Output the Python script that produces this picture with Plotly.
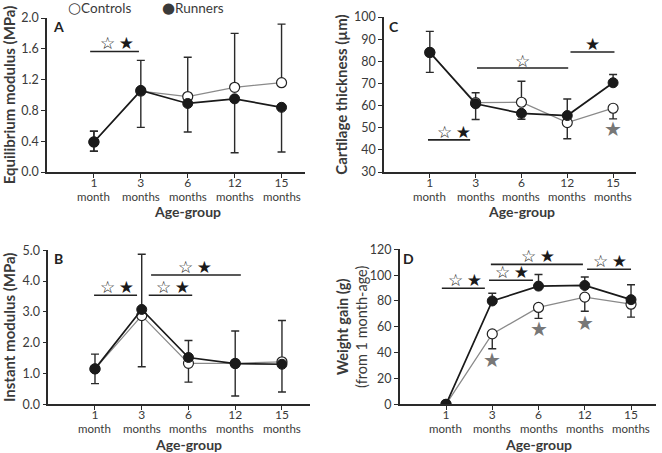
import plotly.graph_objects as go

# ---------------- data ----------------
age_pos = [1, 2, 3, 4, 5]
age_nums = ["1", "3", "6", "12", "15"]
age_units = ["month", "months", "months", "months", "months"]

# Panel A - Equilibrium modulus (MPa)
a_ctrl = [0.39, 1.05, 0.98, 1.10, 1.16]
a_ctrl_up = [0.14, 0.40, 0.51, 0.70, 0.76]
a_ctrl_dn = [0.12, 0.00, 0.00, 0.00, 0.00]
a_run = [0.39, 1.06, 0.89, 0.95, 0.84]
a_run_up = [0.14, 0.00, 0.00, 0.00, 0.00]
a_run_dn = [0.12, 0.48, 0.37, 0.70, 0.58]

# Panel B - Instant modulus (MPa)
b_ctrl = [1.15, 2.88, 1.33, 1.33, 1.38]
b_ctrl_up = [0.00, 0.00, 0.00, 0.00, 1.34]
b_ctrl_dn = [0.00, 1.66, 0.61, 0.00, 0.00]
b_run = [1.15, 3.08, 1.52, 1.32, 1.30]
b_run_up = [0.48, 1.79, 0.55, 1.06, 0.00]
b_run_dn = [0.48, 0.00, 0.00, 1.05, 0.90]

# Panel C - Cartilage thickness (um)
c_ctrl = [84.0, 61.3, 61.5, 52.3, 58.8]
c_ctrl_up = [0.0, 4.5, 9.5, 0.0, 0.0]
c_ctrl_dn = [0.0, 0.0, 0.0, 7.3, 4.8]
c_run = [84.0, 60.8, 56.5, 55.5, 70.3]
c_run_up = [9.5, 0.0, 0.0, 7.5, 3.7]
c_run_dn = [9.0, 7.1, 2.7, 0.0, 0.0]

# Panel D - Weight gain (g)
d_ctrl = [0.0, 54.5, 75.0, 83.0, 77.5]
d_ctrl_up = [0.0, 0.0, 0.0, 0.0, 0.0]
d_ctrl_dn = [0.0, 11.5, 8.5, 11.0, 10.0]
d_run = [0.0, 80.0, 91.5, 92.0, 81.0]
d_run_up = [0.0, 6.0, 9.0, 6.5, 11.5]
d_run_dn = [0.0, 0.0, 0.0, 0.0, 0.0]

# significance bars: (x0, x1, y, label, star_x, star_y)
BOTH = "☆\u2009★"
a_sig = [(0.92, 1.96, 1.565, BOTH, 1.50, 1.675)]
b_sig = [(0.98, 1.90, 3.54, BOTH, 1.47, 3.82),
         (2.15, 3.08, 3.54, BOTH, 2.67, 3.82),
         (2.20, 4.12, 4.20, BOTH, 3.15, 4.47)]
c_sig = [(0.96, 1.88, 44.5, BOTH, 1.53, 47.9),
         (2.03, 4.02, 77.0, "☆", 3.02, 80.3),
         (4.07, 5.03, 84.2, "★", 4.55, 88.0)]
d_sig = [(0.91, 1.84, 89.8, BOTH, 1.40, 96.3),
         (1.93, 2.88, 96.0, BOTH, 2.42, 102.6),
         (1.97, 3.96, 108.3, BOTH, 2.98, 114.9),
         (4.05, 5.00, 104.5, BOTH, 4.54, 110.6)]
# grey stars (controls vs runners)
c_grey_x, c_grey_y = [5], [49.5]
d_grey_x, d_grey_y = [2, 3, 4], [34, 58, 63]

legend_names = ["Controls", "Runners"]
xtitle = "Age-group"

W, H = 662, 453
FONT = "Lato, 'Open Sans', sans-serif"
TXT = "#3a3a3a"
AX = "#2a2a2a"

panels = [
    dict(key="", letter="A", ctrl=a_ctrl, cu=a_ctrl_up, cd=a_ctrl_dn, run=a_run, ru=a_run_up, rd=a_run_dn,
         xpx=(47, 305), ypx=(18, 172), xr=[0, 5.5], yr=[0, 2.0], dtick=0.4, fmt=".1f",
         ytitle="<b>Equilibrium modulus (MPa)</b>", ysoff=12, sig=a_sig, grey=None, lx=0.235, ly=1.89),
    dict(key="2", letter="C", ctrl=c_ctrl, cu=c_ctrl_up, cd=c_ctrl_dn, run=c_run, ru=c_run_up, rd=c_run_dn,
         xpx=(384, 636), ypx=(17, 172), xr=[0, 5.5], yr=[30, 100], dtick=10, fmt="d",
         ytitle="<b>Cartilage thickness (µm)</b>", ysoff=3, sig=c_sig, grey=(c_grey_x, c_grey_y), lx=0.22, ly=95.5),
    dict(key="3", letter="B", ctrl=b_ctrl, cu=b_ctrl_up, cd=b_ctrl_dn, run=b_run, ru=b_run_up, rd=b_run_dn,
         xpx=(48.25, 310), ypx=(250.3, 404.3), xr=[0, 5.6], yr=[0, 5.0], dtick=1.0, fmt=".1f",
         ytitle="<b>Instant modulus (MPa)</b>", ysoff=12, sig=b_sig, grey=None, lx=0.22, ly=4.72),
    dict(key="4", letter="D", ctrl=d_ctrl, cu=d_ctrl_up, cd=d_ctrl_dn, run=d_run, ru=d_run_up, rd=d_run_dn,
         xpx=(399.75, 656), ypx=(249.3, 404.3), xr=[0, 5.54], yr=[0, 120], dtick=20, fmt="d",
         ytitle=None, ysoff=0, sig=d_sig, grey=(d_grey_x, d_grey_y), lx=0.2, ly=113),
]
d_ytitle = "<b>Weight gain (g)</b><br>(from 1 month-age)"

fig = go.Figure()
layout = dict(width=W, height=H, margin=dict(l=0, r=0, t=0, b=0, autoexpand=False),
              paper_bgcolor="white", plot_bgcolor="white",
              font=dict(family=FONT, color=TXT, size=12), showlegend=False)
annotations = []
shapes = []

for p in panels:
    k = p["key"]
    xa, ya = "x" + k, "y" + k
    eb = dict(type="data", symmetric=False, color=AX, thickness=1.4, width=4)
    fig.add_trace(go.Scatter(
        x=age_pos, y=p["ctrl"], xaxis=xa, yaxis=ya, mode="lines+markers", name=legend_names[0],
        line=dict(color="#8a8a8a", width=1.3),
        marker=dict(size=10, color="white", line=dict(color="#222222", width=1.2)),
        error_y=dict(eb, array=p["cu"], arrayminus=p["cd"])))
    fig.add_trace(go.Scatter(
        x=age_pos, y=p["run"], xaxis=xa, yaxis=ya, mode="lines+markers", name=legend_names[1],
        line=dict(color="#1a1a1a", width=1.7),
        marker=dict(size=10, color="#1a1a1a", line=dict(color="#1a1a1a", width=1)),
        error_y=dict(eb, array=p["ru"], arrayminus=p["rd"])))
    x0, x1 = p["xpx"]
    yt, yb = p["ypx"]
    axcommon = dict(showgrid=False, zeroline=False, showline=True, linecolor=AX, linewidth=1.5,
                    ticks="outside", ticklen=4, tickwidth=1.3, tickcolor=AX, automargin=False)
    layout["xaxis" + k] = dict(axcommon, domain=[x0 / W, x1 / W], range=p["xr"], anchor=ya,
                               tickmode="array", tickvals=age_pos, ticktext=age_nums,
                               tickfont=dict(size=12, color=TXT, family=FONT), ticklabelstandoff=-5)
    ydict = dict(axcommon, domain=[(H - yb) / H, (H - yt) / H], range=p["yr"], anchor=xa,
                 dtick=p["dtick"], tick0=p["yr"][0], tickformat=p["fmt"],
                 tickfont=dict(size=12.5, color=TXT, family=FONT))
    if p["ytitle"]:
        ydict["title"] = dict(text=p["ytitle"], font=dict(size=15, color=TXT), standoff=p["ysoff"])
    layout["yaxis" + k] = ydict
    # second line of each category label
    for xv, unit in zip(age_pos, age_units):
        annotations.append(dict(text=unit, x=xv, y=1 - (yb + 24.5) / H, xref=xa, yref="paper",
                                yanchor="middle", showarrow=False,
                                font=dict(size=11.5, color=TXT, family=FONT)))
    # x-axis title centred on the category span
    annotations.append(dict(text="<b>" + xtitle + "</b>", x=3, y=1 - (yb + 40) / H, xref=xa, yref="paper",
                            yanchor="middle", showarrow=False, font=dict(size=14, color=TXT)))
    annotations.append(dict(text="<b>" + p["letter"] + "</b>", x=p["lx"], y=p["ly"], xref=xa, yref=ya,
                            showarrow=False, font=dict(size=14, color="#222222")))
    for (s0, s1, sy, lab, sx, sty) in p["sig"]:
        shapes.append(dict(type="line", xref=xa, yref=ya, x0=s0, x1=s1, y0=sy, y1=sy,
                           line=dict(color="#222222", width=1.6)))
        annotations.append(dict(text=lab, x=sx, y=sty, xref=xa, yref=ya, showarrow=False,
                                font=dict(size=17, color="#1a1a1a", family="DejaVu Sans")))
    if p["grey"]:
        for gx, gy in zip(*p["grey"]):
            annotations.append(dict(text="★", x=gx, y=gy, xref=xa, yref=ya, showarrow=False,
                                    font=dict(size=20, color="#777777", family="DejaVu Sans")))

# y title of panel D (two lines)
annotations.append(dict(text=d_ytitle, x=352 / W, y=1 - 327 / H, xref="paper", yref="paper",
                        textangle=-90, showarrow=False, xanchor="center", yanchor="middle",
                        font=dict(size=14.5, color=TXT, family=FONT)))

# legend (symbol + name), drawn as text above panel A
sym = '<span style="font-family:DejaVu Sans;font-size:15px">%s</span>'
annotations.append(dict(text=(sym % "○") + legend_names[0], x=66 / W, y=1 - 8 / H, xref="paper", yref="paper",
                        xanchor="left", yanchor="middle", showarrow=False,
                        font=dict(size=13.5, color=TXT, family=FONT)))
annotations.append(dict(text=(sym % "●") + legend_names[1], x=160 / W, y=1 - 8 / H, xref="paper", yref="paper",
                        xanchor="left", yanchor="middle", showarrow=False,
                        font=dict(size=13.5, color=TXT, family=FONT)))

layout["annotations"] = annotations
layout["shapes"] = shapes
fig.update_layout(**layout)
fig.write_html("out.html", config={"displayModeBar": False},
               post_script="document.body.style.margin='0px';")
